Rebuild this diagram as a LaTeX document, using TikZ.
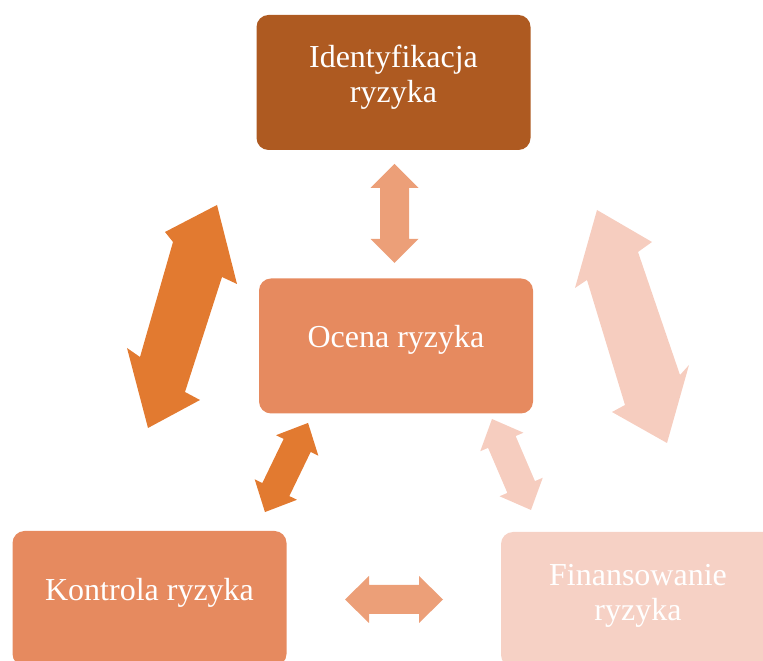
\documentclass[tikz,border=0pt]{standalone}
\usepackage{fontspec}
\setmainfont{Liberation Serif}
\definecolor{cdark}{HTML}{AE5A21}
\definecolor{cmid}{HTML}{E68A5F}
\definecolor{clight}{HTML}{F6D1C5}
\definecolor{aorange}{HTML}{E27A30}
\definecolor{asalmon}{HTML}{EC9F78}
\definecolor{apink}{HTML}{F6CDBF}
% double block arrow: cx, cy, angle, length, head length, head width, shaft width, colour
\newcommand{\dblarr}[8]{%
  \fill[#8, shift={(#1,#2)}, rotate=#3]
    ({-#4/2},0) -- ({-#4/2+#5},{#6/2}) -- ({-#4/2+#5},{#7/2}) -- ({#4/2-#5},{#7/2})
    -- ({#4/2-#5},{#6/2}) -- ({#4/2},0) -- ({#4/2-#5},{-#6/2}) -- ({#4/2-#5},{-#7/2})
    -- ({-#4/2+#5},{-#7/2}) -- ({-#4/2+#5},{-#6/2}) -- cycle;}
\begin{document}
\begin{tikzpicture}[x=1pt,y=1pt,
  box/.style={rounded corners=12pt, minimum width=274pt, minimum height=135pt,
    inner sep=0pt},
  lbl/.style={inner sep=0pt, text=white, align=center,
    font=\fontsize{32}{35}\selectfont}]
\useasboundingbox (0,0) rectangle (763,661);
\clip (0,0) rectangle (763,661);
% boxes
\node[box, fill=cdark] (ident) at (393.5,578.5) {};
\node[box, fill=cmid] (ocena) at (396,315) {};
\node[box, fill=cmid] (kontrola) at (149.5,62.5) {};
\node[box, fill=clight] (finans) at (638,61.5) {};
% labels
\node[lbl] (identtxt) at ([yshift=5]ident.center) {Identyfikacja\\ryzyka};
\node[lbl] (ocenatxt) at ([yshift=6]ocena.center) {Ocena ryzyka};
\node[lbl] (kontrolatxt) at ([yshift=6]kontrola.center) {Kontrola ryzyka};
\node[lbl] (finanstxt) at ([yshift=4]finans.center) {Finansowanie\\ryzyka};
% straight small arrows
\dblarr{394.5}{447.5}{90}{99}{24}{48}{29}{asalmon}
\dblarr{394}{61.5}{0}{98}{24}{47}{29}{asalmon}
% small diagonal arrows
\dblarr{286.5}{193.5}{64.2}{99}{25}{47}{30}{aorange}
\dblarr{511.5}{196.5}{113.2}{99}{25}{47}{30}{apink}
% big arrows (slightly skewed shapes)
\fill[aorange] (217,456) -- (237,377) -- (222,384) -- (185,269) -- (200,261)
  -- (148,233) -- (127,313) -- (140,304) -- (173,419) -- (165,429) -- cycle;
\fill[apink] (597,451) -- (652,419) -- (638,409) -- (680,286) -- (689,296)
  -- (667,218) -- (612,249) -- (625,256) -- (587,381) -- (575,373) -- cycle;
\end{tikzpicture}
\end{document}
